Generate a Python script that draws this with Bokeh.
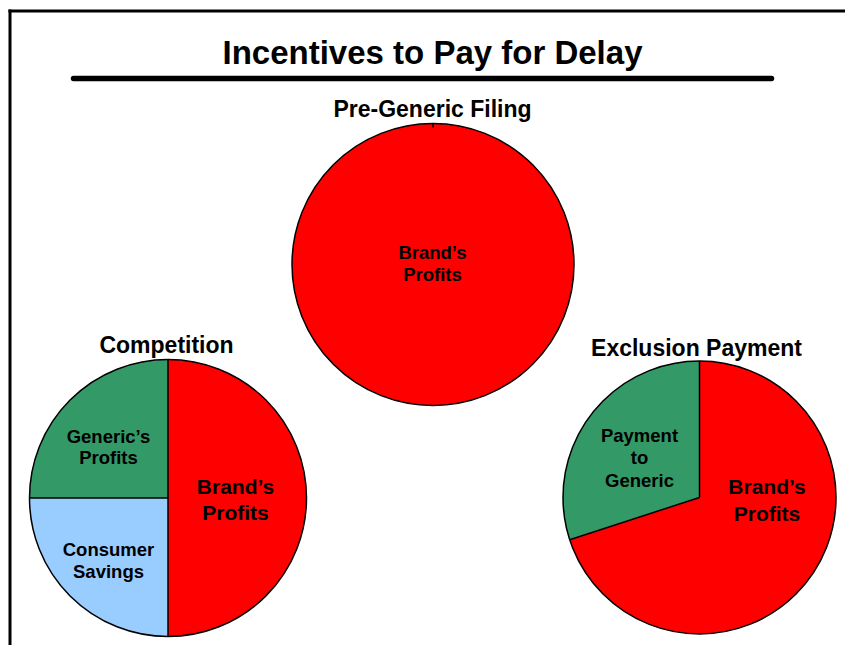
import math
from bokeh.plotting import figure
from bokeh.models import Range1d, ColumnDataSource
from bokeh.embed import file_html
from bokeh.resources import INLINE
from bokeh.core.properties import value

# ---------------- data ----------------
TITLE = "Incentives to Pay for Delay"
pie_titles = ["Pre-Generic Filing", "Competition", "Exclusion Payment"]

pre_labels = ["Brand\u2019s\nProfits"]
pre_values = [100]

comp_labels = ["Generic\u2019s\nProfits", "Consumer\nSavings", "Brand\u2019s\nProfits"]
comp_values = [25, 25, 50]

excl_labels = ["Payment\nto\nGeneric", "Brand\u2019s\nProfits"]
excl_values = [30, 70]

# ---------------- style / layout ----------------
W, H = 845, 645
FONT = value("Liberation Sans")
RED, GREEN, BLUE = "#FF0000", "#339966", "#99CCFF"
pre_colors = [RED]
comp_colors = [GREEN, BLUE, RED]
excl_colors = [GREEN, RED]

# pixel-space layout (y measured from top)
pies = [
    dict(labels=pre_labels, values=pre_values, colors=pre_colors,
         cx=432.5, cy=264.0, r=141.0, title_xy=(432, 108),
         label_xy=[(432, 263)], label_size=["18.5px"], label_lh=[1.09]),
    dict(labels=comp_labels, values=comp_values, colors=comp_colors,
         cx=167.5, cy=497.5, r=138.5, title_xy=(166, 344),
         label_xy=[(108, 446.5), (108, 560), (235, 499)],
         label_size=["18.5px", "18.5px", "21px"], label_lh=[1.04, 1.04, 1.15]),
    dict(labels=excl_labels, values=excl_values, colors=excl_colors,
         cx=699.0, cy=497.0, r=136.5, title_xy=(696, 347),
         label_xy=[(639, 457.5), (766.5, 499.5)],
         label_size=["18.5px", "21px"], label_lh=[1.06, 1.15]),
]
START_ANGLE = math.pi / 2  # slices start at 12 o'clock, going anticlockwise


def Y(py):
    return H - py


p = figure(width=W, height=H, x_range=Range1d(0, W), y_range=Range1d(0, H),
           output_backend="svg", toolbar_location=None, min_border=0)
p.axis.visible = False
p.grid.visible = False
p.outline_line_color = None
p.background_fill_color = "white"
p.border_fill_color = "white"

# frame lines
p.segment(x0=[8, 9.5], y0=[Y(10.5), Y(9)], x1=[W, 9.5], y1=[Y(10.5), 0],
          line_color="black", line_width=3)

# title + underline
p.text(x=[432], y=[Y(52)], text=[TITLE], text_font=FONT, text_font_style="bold",
       text_font_size="33px", text_align="center", text_baseline="middle",
       text_color="black")
p.segment(x0=[73], y0=[Y(78)], x1=[771], y1=[Y(78)], line_color="black",
          line_width=5.5, line_cap="round")

for i, pie in enumerate(pies):
    vals = pie["values"]
    total = float(sum(vals))
    starts, ends = [], []
    a = START_ANGLE
    for v in vals:
        starts.append(a)
        a += 2 * math.pi * v / total
        ends.append(a)
    cx, cy, r = pie["cx"], Y(pie["cy"]), pie["r"]
    src = ColumnDataSource(dict(x=[cx] * len(vals), y=[cy] * len(vals),
                                start=starts, end=ends, color=pie["colors"]))
    p.wedge(x="x", y="y", radius=r, start_angle="start", end_angle="end",
            fill_color="color", line_color=None, source=src)
    # boundaries between slices
    blen = r if len(vals) > 1 else 4
    bx0, by0, bx1, by1 = [], [], [], []
    for s in starts:
        bx0.append(cx + (r - blen) * math.cos(s))
        by0.append(cy + (r - blen) * math.sin(s))
        bx1.append(cx + r * math.cos(s))
        by1.append(cy + r * math.sin(s))
    p.segment(x0=bx0, y0=by0, x1=bx1, y1=by1, line_color="black", line_width=1.5)
    p.circle(x=[cx], y=[cy], radius=r, fill_color=None, line_color="black",
             line_width=1.5)
    # pie title
    tx, ty = pie["title_xy"]
    p.text(x=[tx], y=[Y(ty)], text=[pie_titles[i]], text_font=FONT,
           text_font_style="bold", text_font_size="23px", text_align="center",
           text_baseline="middle", text_color="black")
    # slice labels
    for lab, (lx, ly), fs, lh in zip(pie["labels"], pie["label_xy"],
                                     pie["label_size"], pie["label_lh"]):
        p.text(x=[lx], y=[Y(ly)], text=[lab], text_font=FONT, text_font_style="bold",
               text_font_size=fs, text_align="center", text_baseline="middle",
               text_line_height=lh, text_color="black")

open("out.html", "w").write(file_html(p, INLINE))
